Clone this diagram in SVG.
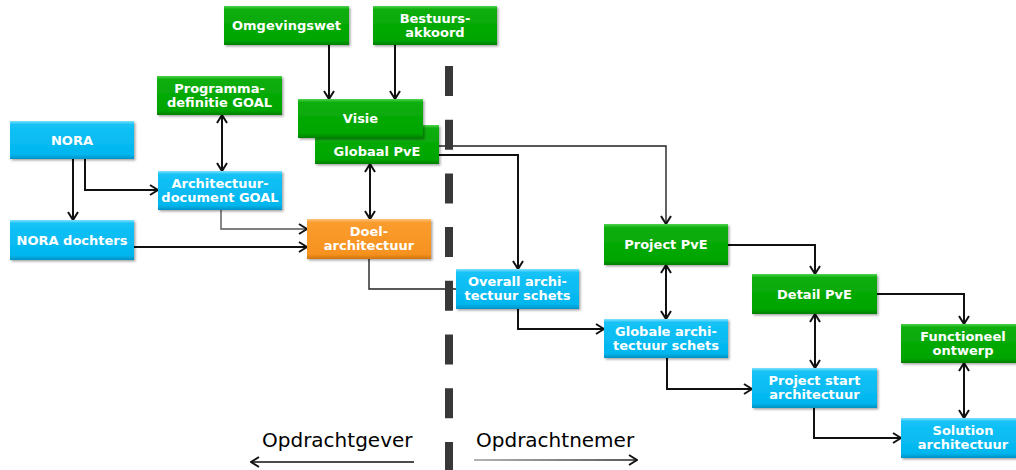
<svg xmlns="http://www.w3.org/2000/svg" width="1016" height="470" viewBox="0 0 1016 470">
  <defs>
    <linearGradient id="g-green" x1="0" y1="0" x2="0" y2="1">
      <stop offset="0" stop-color="#4fd24f"/>
      <stop offset="0.09" stop-color="#0cae0c"/>
      <stop offset="0.88" stop-color="#00a500"/>
      <stop offset="1" stop-color="#007f00"/>
    </linearGradient>
    <linearGradient id="g-blue" x1="0" y1="0" x2="0" y2="1">
      <stop offset="0" stop-color="#7fe0ff"/>
      <stop offset="0.09" stop-color="#14c2f6"/>
      <stop offset="0.88" stop-color="#00b6ee"/>
      <stop offset="1" stop-color="#0092c4"/>
    </linearGradient>
    <linearGradient id="g-orange" x1="0" y1="0" x2="0" y2="1">
      <stop offset="0" stop-color="#ffc27a"/>
      <stop offset="0.09" stop-color="#fa9c2e"/>
      <stop offset="0.88" stop-color="#f6921f"/>
      <stop offset="1" stop-color="#d07410"/>
    </linearGradient>
    <linearGradient id="g-right" gradientUnits="userSpaceOnUse" x1="474" y1="0" x2="637" y2="0">
      <stop offset="0" stop-color="#9a9a9a"/>
      <stop offset="1" stop-color="#222"/>
    </linearGradient>
    <filter id="shadow" x="-5%" y="-10%" width="115%" height="140%">
      <feDropShadow dx="1.5" dy="1.5" stdDeviation="1" flood-color="#000" flood-opacity="0.35"/>
    </filter>
    <marker id="arrow" viewBox="0 0 10 12" refX="9" refY="6" markerWidth="10" markerHeight="12" markerUnits="userSpaceOnUse" orient="auto-start-reverse">
      <path d="M1,1 L9,6 L1,11" fill="none" stroke="#111" stroke-width="2" stroke-linejoin="miter"/>
    </marker>
    <style>
      .node rect { filter: url(#shadow); }
      .green rect { fill: url(#g-green); }
      .blue rect { fill: url(#g-blue); }
      .orange rect { fill: url(#g-orange); }
      .node text { font-family: "DejaVu Sans", Verdana, sans-serif; font-weight: bold; font-size: 13px; fill: #fff; text-anchor: middle; }
      .conn path { fill: none; stroke: #111; stroke-width: 2; }
      .conn path.thin { stroke-width: 1.4; stroke: #222; }
      .conn path.grey { stroke-width: 1.4; stroke: #555; }
      .end { marker-end: url(#arrow); }
      .both { marker-start: url(#arrow); marker-end: url(#arrow); }
      .side { font-family: "DejaVu Sans", Verdana, sans-serif; font-size: 20px; fill: #000; }
    </style>
  </defs>

  <rect width="1016" height="470" fill="#fff"/>

  <!-- connectors -->
  <g id="connectors" class="conn">
    <path class="end" d="M329,45 V99"/>
    <path class="end" d="M395,45 V99"/>
    <path class="both" d="M222,115 V171"/>
    <path class="end" d="M73,159 V220"/>
    <path class="end" d="M85,159 V190 H158"/>
    <path class="end grey" d="M221,210 V229 H307"/>
    <path class="end" d="M134,247 H307"/>
    <path class="both" d="M370,164 V219"/>
    <path class="thin" d="M369,259 V289 H456"/>
    <path class="end thin" d="M439,146 H666 V224"/>
    <path class="end" d="M439,155 H518 V269"/>
    <path class="end" d="M518,309 V329 H604"/>
    <path class="both" d="M666,265 V319"/>
    <path class="end" d="M728,245 H815 V274"/>
    <path class="end" d="M877,294 H964 V324"/>
    <path class="both" d="M815,314 V368"/>
    <path class="end" d="M667,358 V389 H752"/>
    <path class="both" d="M964,363 V418"/>
    <path class="end" d="M814,408 V438 H901"/>
  </g>

  <!-- client / contractor divider -->
  <line id="divider" x1="449" y1="66" x2="449" y2="470" stroke="#383838" stroke-width="8" stroke-dasharray="30 23.7"/>

  <!-- nodes -->
  <g id="n-omgevingswet" class="node green">
    <rect x="224" y="6" width="125" height="39"/>
    <text x="286.5" y="30.2">Omgevingswet</text>
  </g>
  <g id="n-bestuursakkoord" class="node green">
    <rect x="373" y="6" width="124" height="39"/>
    <text x="435" y="22.5">Bestuurs-</text>
    <text x="435" y="36.5">akkoord</text>
  </g>
  <g id="n-programmadefinitie" class="node green">
    <rect x="157" y="76" width="125" height="39"/>
    <text x="219.5" y="92.5">Programma-</text>
    <text x="219.5" y="106.5">definitie GOAL</text>
  </g>
  <g id="n-nora" class="node blue">
    <rect x="10" y="121" width="124" height="38"/>
    <text x="72" y="144.7">NORA</text>
  </g>
  <g id="n-architectuurdocument" class="node blue">
    <rect x="158" y="171" width="124" height="39"/>
    <text x="220" y="187.5">Architectuur-</text>
    <text x="220" y="201.5">document GOAL</text>
  </g>
  <g id="n-noradochters" class="node blue">
    <rect x="10" y="220" width="124" height="40"/>
    <text x="72" y="244.7">NORA dochters</text>
  </g>
  <g id="n-doelarchitectuur" class="node orange">
    <rect x="307" y="219" width="124" height="40"/>
    <text x="369" y="236">Doel-</text>
    <text x="369" y="250">architectuur</text>
  </g>
  <g id="n-globaalpve" class="node green">
    <rect x="315" y="125" width="124" height="39"/>
    <text x="377" y="155.5">Globaal PvE</text>
  </g>
  <g id="n-visie" class="node green">
    <rect x="298" y="99" width="125" height="39"/>
    <text x="360.5" y="123">Visie</text>
  </g>
  <g id="n-overallschets" class="node blue">
    <rect x="456" y="269" width="123" height="40"/>
    <text x="517.5" y="286">Overall archi-</text>
    <text x="517.5" y="300">tectuur schets</text>
  </g>
  <g id="n-projectpve" class="node green">
    <rect x="604" y="224" width="124" height="41"/>
    <text x="666" y="249.2">Project PvE</text>
  </g>
  <g id="n-globaleschets" class="node blue">
    <rect x="604" y="319" width="124" height="39"/>
    <text x="666" y="335.5">Globale archi-</text>
    <text x="666" y="349.5">tectuur schets</text>
  </g>
  <g id="n-detailpve" class="node green">
    <rect x="752" y="274" width="125" height="40"/>
    <text x="814.5" y="298.7">Detail PvE</text>
  </g>
  <g id="n-functioneelontwerp" class="node green">
    <rect x="901" y="324" width="124" height="39"/>
    <text x="963" y="340.5">Functioneel</text>
    <text x="963" y="354.5">ontwerp</text>
  </g>
  <g id="n-projectstart" class="node blue">
    <rect x="752" y="368" width="125" height="40"/>
    <text x="814.5" y="385">Project start</text>
    <text x="814.5" y="399">architectuur</text>
  </g>
  <g id="n-solution" class="node blue">
    <rect x="901" y="418" width="124" height="40"/>
    <text x="963" y="435">Solution</text>
    <text x="963" y="449">architectuur</text>
  </g>

  <!-- side labels -->
  <g id="side-labels">
    <text class="side" x="262" y="447">Opdrachtgever</text>
    <path d="M414,462 H251" fill="none" stroke="#111" stroke-width="1.6" marker-end="url(#arrow)"/>
    <text class="side" x="476" y="447">Opdrachtnemer</text>
    <path d="M474,460 H637" fill="none" stroke="url(#g-right)" stroke-width="1.6" marker-end="url(#arrow)"/>
  </g>
</svg>
